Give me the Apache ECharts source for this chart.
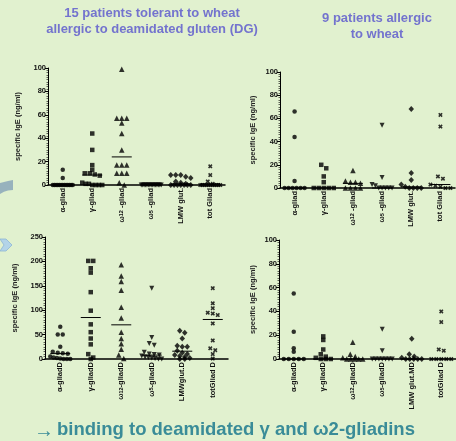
<!DOCTYPE html>
<html><head><meta charset="utf-8">
<script src="https://cdn.jsdelivr.net/npm/echarts@6/dist/echarts.min.js"></script>
<style>html,body{margin:0;padding:0;background:#E1F1CF}#c{width:456px;height:441px}</style>
</head><body><div id="c"></div>
<script>
// ---- categories / tick labels ----
const topCats = ['α-gliad', 'γ-gliad', 'ω12 -gliad', 'ω5 -gliad', 'LMW glut.', 'tot Gliad'];
const bottomLeftCats = ['α-gliadD', 'γ-gliadD', 'ω12-gliadD', 'ω5-gliadD', 'LMWglut.D', 'totGliad D'];
const bottomRightCats = ['α-gliadD', 'γ-gliadD', 'ω12-gliadD', 'ω5-gliadD', 'LMW glut.MD', 'totGliad D'];
const yName = 'specific IgE (ng/ml)';

// ---- values (ng/ml) ----
// top-left: 15 patients tolerant to wheat, native gliadins
const topLeftValues = [
  [13, 6, 0, 0, 0, 0, 0, 0, 0, 0, 0, 0, 0, 0, 0],
  [44, 30, 17, 13, 10, 10, 9, 8, 2, 1, 1, 0, 0, 0, 0],
  [99, 57, 57, 57, 53, 44, 30, 17, 17, 17, 10, 10, 10, 2, 0],
  [0, 0, 0, 0, 0, 0, 0, 0, 0, 0, 0, 0, 0, 0, 0],
  [8.5, 8.5, 8.5, 7, 6, 3, 2, 1, 0, 0, 0, 0, 0, 0, 0],
  [16, 8.5, 3, 1, 0, 0, 0, 0, 0, 0, 0, 0, 0, 0, 0]
];
const topLeftMedians = [0, 8.5, 24, 0, 1, 1];

// top-right: 9 patients allergic to wheat, native gliadins
const topRightValues = [
  [66, 44, 6, 0, 0, 0, 0, 0, 0],
  [20, 17, 10, 5, 0, 0, 0, 0, 0],
  [15, 6, 5, 5, 4, 0, 0, 0, 0],
  [54, 9, 3, 2, 0, 0, 0, 0, 0],
  [68, 13, 7, 3, 1, 0, 0, 0, 0],
  [63, 53, 10, 8, 3, 2, 1, 0, 0]
];
const topRightMedians = [0, 0, 4, 0, 1, 3];

// bottom-left: 15 patients, deamidated gliadins
const bottomLeftValues = [
  [66, 50, 50, 25, 15, 13, 12, 11, 5, 3, 2, 1, 0, 0, 0],
  [201, 201, 186, 177, 137, 99, 71, 55, 42, 30, 10, 3, 0],
  [193, 170, 159, 141, 106, 84, 55, 42, 31, 20, 8, 1],
  [145, 44, 32, 28, 14, 10, 9, 8, 6, 4, 3, 2, 1, 0, 0],
  [58, 54, 42, 27, 25, 25, 17, 13, 10, 8, 6, 4, 2, 0, 0],
  [145, 114, 104, 95, 93, 90, 73, 38, 22, 18, 10, 1]
];
const bottomLeftMedians = [11, 85, 70, 8, 16, 81];

// bottom-right: 9 patients, deamidated gliadins
const bottomRightValues = [
  [55, 23, 9, 6, 0, 0, 0, 0, 0],
  [19, 16, 8, 4, 2, 1, 0, 0, 0],
  [14, 4, 2, 1, 0, 0, 0, 0, 0],
  [25, 7, 0, 0, 0, 0, 0, 0, 0],
  [17, 4, 2, 1, 0, 0, 0, 0, 0],
  [40, 31, 8, 7, 0, 0, 0, 0, 0]
];
const bottomRightMedians = [0, 0, 0, 0, 0, 0];

// ---- layout / style ----
const FONT = 'Liberation Sans, Arial, sans-serif';
const symbols = ['circle', 'rect', 'triangle', 'path://M0,0L10,0L5,10Z', 'diamond',
  'path://M0,2.5L2.5,0L5,2.5L7.5,0L10,2.5L7.5,5L10,7.5L7.5,10L5,7.5L2.5,10L0,7.5L2.5,5Z'];
const symbolSizes = [4.5, 4.5, 5.5, 5, [5.5, 6], 4.5];

const panels = [
  {cats: topCats, vals: topLeftValues, med: topLeftMedians, max: 100, interval: 20, grid: {left: 48, top: 68, width: 177, height: 117}, nameGap: 26},
  {cats: topCats, vals: topRightValues, med: topRightMedians, max: 100, interval: 20, grid: {left: 280, top: 72, width: 175, height: 116}, nameGap: 23},
  {cats: bottomLeftCats, vals: bottomLeftValues, med: bottomLeftMedians, max: 250, interval: 50, grid: {left: 45, top: 237, width: 183, height: 122}, nameGap: 26},
  {cats: bottomRightCats, vals: bottomRightValues, med: bottomRightMedians, max: 100, interval: 20, grid: {left: 279, top: 240, width: 177, height: 119}, nameGap: 22}
];

const chart = echarts.init(document.getElementById('c'), null, {renderer: 'canvas'});

function buildOption(offsets) {
  const series = [];
  panels.forEach((p, pi) => {
    p.vals.forEach((arr, ci) => {
      series.push({
        type: 'scatter', xAxisIndex: pi, yAxisIndex: pi,
        symbol: symbols[ci], symbolSize: symbolSizes[ci],
        itemStyle: {color: '#000'},
        silent: true, z: 4,
        data: arr.map((v, i) => ({
          value: [ci, v],
          symbolOffset: offsets ? [offsets[pi][ci][i], 0] : [0, 0]
        }))
      });
    });
    series.push({
      type: 'custom', xAxisIndex: pi, yAxisIndex: pi, z: 3, silent: true,
      data: p.med.map((m, ci) => [ci, m]),
      renderItem: (params, api) => {
        const c = api.coord([api.value(0), api.value(1)]);
        return {type: 'line', shape: {x1: c[0] - 10, y1: c[1], x2: c[0] + 10, y2: c[1]},
          style: {stroke: '#000', lineWidth: 1}};
      }
    });
  });
  return {
    backgroundColor: '#E1F1CF',
    animation: false,
    grid: panels.map(p => Object.assign({containLabel: false}, p.grid)),
    xAxis: panels.map((p, pi) => ({
      type: 'category', gridIndex: pi, data: p.cats, boundaryGap: true,
      axisLine: {lineStyle: {color: '#000', width: 1.5}},
      axisTick: {show: false},
      axisLabel: {interval: 0, rotate: 90, margin: 3, fontSize: 7.5, fontWeight: 'bold', color: '#111', fontFamily: FONT,
        formatter: v => v.replace(/ω(\d+)/, 'ω{s|$1}'),
        rich: {s: {fontSize: 5.5, fontWeight: 'bold', color: '#111', fontFamily: FONT}}},
      splitLine: {show: false}
    })),
    yAxis: panels.map((p, pi) => ({
      type: 'value', gridIndex: pi, min: 0, max: p.max, interval: p.interval,
      name: yName, nameLocation: 'middle', nameGap: p.nameGap, nameRotate: 90,
      nameTextStyle: {fontSize: 7.5, fontWeight: 'bold', color: '#222', fontFamily: FONT},
      axisLine: {show: true, lineStyle: {color: '#000', width: 1}},
      axisTick: {show: true, length: 3, lineStyle: {color: '#000'}},
      minorTick: {show: true, splitNumber: 10, length: 1.5, lineStyle: {color: '#000', width: 0.6}},
      axisLabel: {margin: 2, fontSize: 7.5, fontWeight: 'bold', color: '#111', fontFamily: FONT},
      splitLine: {show: false}
    })),
    graphic: [
      {type: 'text', x: 152, y: 21, style: {text: '15 patients tolerant to wheat\nallergic to deamidated gluten (DG)',
        textAlign: 'center', textVerticalAlign: 'middle', fill: '#7373CE', font: 'bold 13px ' + FONT, lineHeight: 16}},
      {type: 'text', x: 377, y: 26, style: {text: '9 patients allergic\nto wheat',
        textAlign: 'center', textVerticalAlign: 'middle', fill: '#7373CE', font: 'bold 13px ' + FONT, lineHeight: 16}},
      {type: 'text', x: 44, y: 431, style: {text: '→',
        textAlign: 'center', textVerticalAlign: 'middle', fill: '#3A8C98', font: '20px ' + FONT}},
      {type: 'text', x: 236, y: 430, style: {text: 'binding to deamidated γ and ω2-gliadins',
        textAlign: 'center', textVerticalAlign: 'middle', fill: '#3A8C98', font: 'bold 18.5px ' + FONT}},
      {type: 'polygon', shape: {points: [[0, 183], [4, 182], [8, 181], [13, 180], [13, 190], [8, 190.6], [4, 191.8], [0, 194]]},
        style: {fill: '#97B2BD'}},
      {type: 'polygon', shape: {points: [[0, 239], [6, 239], [12, 245], [6, 251], [0, 251], [4, 245]]},
        style: {fill: '#B3D4E8', stroke: '#8DB6D4', lineWidth: 0.8}}
    ],
    series: series
  };
}

chart.setOption(buildOption(null));

// beeswarm-like spreading of (near-)tied points, computed in pixel space from the axes
const offsets = panels.map((p, pi) => p.vals.map((arr, ci) => {
  const py = arr.map(v => chart.convertToPixel({gridIndex: pi}, [ci, v])[1]);
  const order = arr.map((v, i) => i).sort((a, b) => py[a] - py[b]);
  const offs = new Array(arr.length).fill(0);
  let row = [], y0 = null;
  const flush = () => {
    const n = row.length;
    if (!n) return;
    const step = n > 1 ? Math.min(5, 20 / (n - 1)) : 0;
    row.forEach((k, j) => { offs[k] = (j - (n - 1) / 2) * step; });
    row = [];
  };
  order.forEach(k => {
    if (y0 === null || py[k] - y0 > 3.5) { flush(); y0 = py[k]; }
    row.push(k);
  });
  flush();
  return offs;
}));

chart.setOption(buildOption(offsets));
</script>
</body></html>
